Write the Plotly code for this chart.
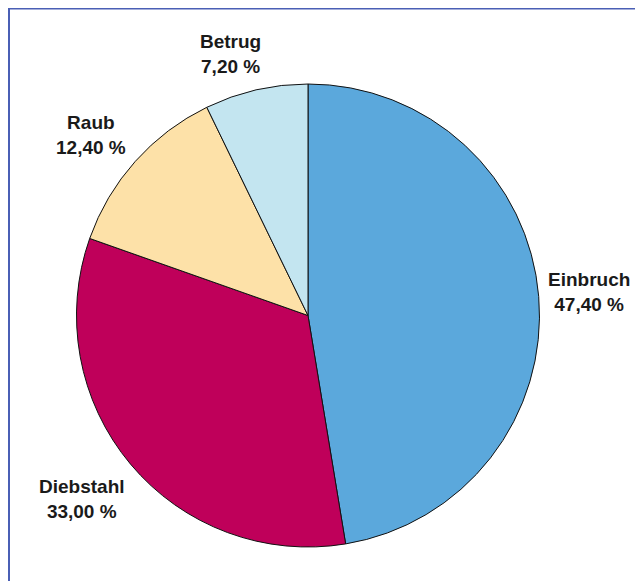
import plotly.graph_objects as go

categories = ["Einbruch", "Diebstahl", "Raub", "Betrug"]
values = [47.4, 33.0, 12.4, 7.2]
colors = ["#5BA8DC", "#BF005A", "#FDE1A8", "#C3E5F0"]

# label block centres in pixels (layout only, figure coords)
label_px = [(581, 284), (74, 491), (83, 127), (223, 46)]

W, H = 643, 581
CX, CY, R = 300, 307.5, 231.5

def fmt(v):
    return f"{v:.2f}".replace(".", ",") + " %"

fig = go.Figure(go.Pie(
    labels=categories,
    values=values,
    marker=dict(colors=colors, line=dict(color="#111111", width=1)),
    sort=False,
    direction="clockwise",
    rotation=0,
    textinfo="none",
    hoverinfo="label+percent",
    showlegend=False,
    domain=dict(x=[(CX - R) / W, (CX + R) / W],
                y=[1 - (CY + R) / H, 1 - (CY - R) / H]),
))

annotations = []
for cat, val, (px, py) in zip(categories, values, label_px):
    annotations.append(dict(
        x=px / W, y=1 - py / H, xref="paper", yref="paper",
        text=f"<b>{cat}</b><br><b>{fmt(val)}</b>",
        showarrow=False, xanchor="center", yanchor="middle", align="center",
        font=dict(family="Arial, Liberation Sans, sans-serif", size=19, color="#1a1a1a"),
    ))

fig.update_layout(
    width=W, height=H,
    margin=dict(l=0, r=0, t=0, b=0),
    paper_bgcolor="white",
    plot_bgcolor="white",
    annotations=annotations,
    shapes=[dict(type="rect", xref="paper", yref="paper", layer="below",
                 x0=1 / W, x1=1.05, y0=-0.05, y1=1 - 0.5 / H,
                 fillcolor="white", line=dict(color="#4A5FB5", width=2))],
)

fig.write_html("out.html")
